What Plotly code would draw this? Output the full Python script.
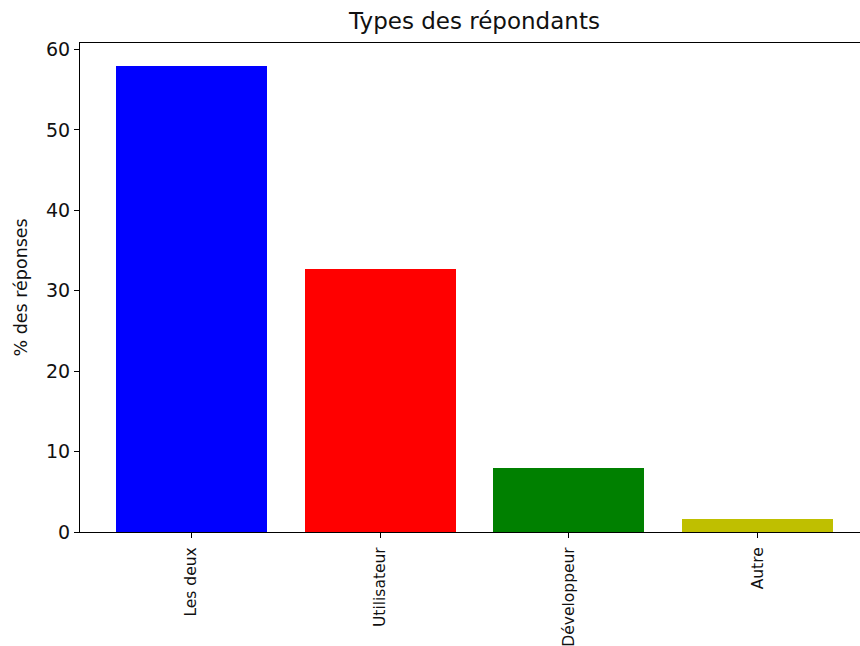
import plotly.graph_objects as go

categories = ["Les deux", "Utilisateur", "Développeur", "Autre"]
values = [57.9, 32.7, 7.9, 1.6]
colors = ["#0000ff", "#ff0000", "#008000", "#bfbf00"]
y_ticks = [0, 10, 20, 30, 40, 50, 60]

positions = list(range(len(categories)))

fig = go.Figure()
fig.add_trace(go.Bar(
    x=positions, y=values, width=0.8,
    marker=dict(color=colors, line=dict(width=0)),
    showlegend=False,
))

font_family = "DejaVu Sans"
txt = "#111111"
fig.update_layout(
    width=870, height=646,
    margin=dict(l=80, r=1, t=43, b=114, autoexpand=False),
    plot_bgcolor="white", paper_bgcolor="white",
    font=dict(family=font_family, color=txt),
    title=dict(text="Types des répondants", xref="paper", x=0.5, xanchor="center",
               yref="container", y=0.968, yanchor="middle",
               font=dict(family=font_family, size=23, color=txt)),
    bargap=0,
)
fig.update_xaxes(
    range=[-0.59, 3.59], tickmode="array", tickvals=positions, ticktext=categories,
    tickangle=-90, tickfont=dict(size=15.5, color=txt), ticklabelstandoff=3,
    showline=True, linecolor="black", linewidth=1.2, mirror=True,
    ticks="outside", ticklen=5, tickwidth=1.2, tickcolor="black",
    showgrid=False, zeroline=False, automargin=False,
)
fig.update_yaxes(
    range=[0, 60.8], tickmode="array", tickvals=y_ticks,
    tickfont=dict(size=19, color=txt),
    showline=True, linecolor="black", linewidth=1.2, mirror=False,
    ticks="outside", ticklen=5, tickwidth=1.2, tickcolor="black",
    showgrid=False, zeroline=False, automargin=False,
)
fig.add_annotation(
    text="% des réponses", xref="paper", yref="paper",
    x=-60 / 789, y=0.5, xanchor="center", yanchor="middle",
    textangle=-90, showarrow=False,
    font=dict(family=font_family, size=17.5, color=txt),
)
fig.write_html(
    "out.html",
    config={"displayModeBar": False},
    post_script="document.body.style.margin='0';document.body.style.overflow='hidden';",
)
